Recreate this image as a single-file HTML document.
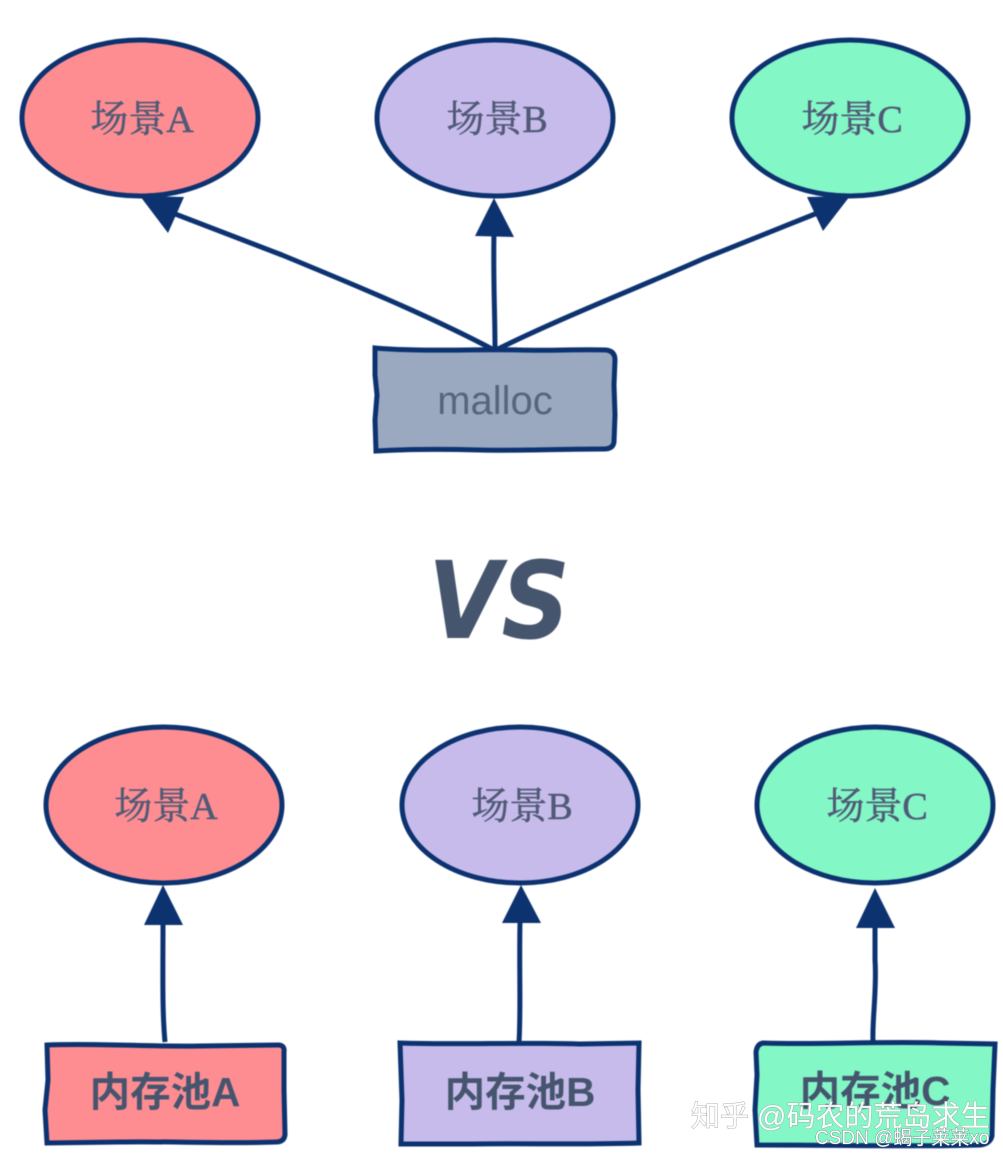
<!DOCTYPE html>
<html>
<head>
<meta charset="utf-8">
<style>
html,body{margin:0;padding:0;background:#fff;width:1003px;height:1156px;overflow:hidden}
svg{display:block}
.s{font-family:"Liberation Serif","Noto Serif CJK SC",serif;font-size:38px;fill:#505a76;stroke:#505a76;stroke-width:0.5;text-anchor:middle}
.b{font-family:"Liberation Sans","Noto Sans CJK SC",sans-serif;font-size:40.5px;font-weight:bold;fill:#46556e;text-anchor:middle}
.e{stroke:#0c3270;stroke-width:5}
.l{stroke:#0c3270;stroke-width:5;fill:none}
.a{fill:#0c3270;stroke:none}
</style>
</head>
<body>
<svg width="1003" height="1156" viewBox="0 0 1003 1156" xmlns="http://www.w3.org/2000/svg">
<g style="filter:blur(0.5px)">
<ellipse class="e" cx="140" cy="118" rx="118" ry="78" fill="#fe8d92"/>
<ellipse class="e" cx="495" cy="118" rx="118" ry="78" fill="#c7bbec"/>
<ellipse class="e" cx="850" cy="118" rx="118" ry="78" fill="#83f7c6"/>
<text class="s" x="142" y="132">场景A</text>
<text class="s" x="497" y="132">场景B</text>
<text class="s" x="852" y="132">场景C</text>

<path class="l" d="M494 350 C430 316 350 283 282 255 L170 212"/>
<path class="l" d="M495 350 C495 310 493 280 494 232"/>
<path class="l" d="M496 350 C560 318 640 287 705 258 L820 212"/>
<polygon class="a" points="140,196 184,197 168,233"/>
<polygon class="a" points="494,198 514,237 475,236"/>
<polygon class="a" points="850,196 807,197 823,231"/>

<path class="e" fill="#9aa9c0" d="M375 348 C420 352 470 349 520 350 C550 351 580 349 606 350 Q615 351 615 360 L614 385 L615 415 L614 442 Q613 449 604 449 C560 449 520 451 480 450 C440 449 410 449 376 451 L375 420 L377 395 L375 375 Z"/>
<text x="495" y="414" text-anchor="middle" font-family="'Liberation Sans',sans-serif" font-size="40" fill="#56657e">malloc</text>

<text transform="translate(499 638) scale(1 1.13)" text-anchor="middle" font-family="'DejaVu Sans','Liberation Sans',sans-serif" font-size="95" font-weight="bold" font-style="italic" fill="#46556e">VS</text>

<ellipse class="e" cx="164" cy="805" rx="118" ry="78" fill="#fe8d92"/>
<ellipse class="e" cx="520" cy="805" rx="118" ry="78" fill="#c7bbec"/>
<ellipse class="e" cx="875" cy="805" rx="118" ry="78" fill="#83f7c6"/>
<text class="s" x="166" y="819">场景A</text>
<text class="s" x="522" y="819">场景B</text>
<text class="s" x="877" y="819">场景C</text>

<path class="l" d="M165 1042 C162 1010 163 970 163 922"/>
<path class="l" d="M519 1042 C521 1010 519 970 520 922"/>
<path class="l" d="M873 1042 C872 1020 877 990 875 960 L875 925"/>
<polygon class="a" points="163,885 183,925 144,925"/>
<polygon class="a" points="521,885 541,923 502,923"/>
<polygon class="a" points="875,888 895,928 856,928"/>

<path class="e" fill="#fe8d92" d="M47 1045 C100 1043 150 1047 200 1046 L278 1045 Q285 1045 284 1052 L284 1090 L285 1135 Q284 1142 276 1142 C220 1144 170 1141 120 1142 L47 1143 L45 1110 L48 1080 Z"/>
<path class="e" fill="#c7bbec" d="M400 1043 C460 1045 520 1042 580 1044 L639 1043 L638 1090 L639 1143 C580 1145 520 1143 470 1144 L401 1144 L402 1100 Z"/>
<path class="e" fill="#83f7c6" d="M763 1043 C820 1045 880 1041 940 1043 L995 1044 L993 1090 L992 1136 Q990 1144 980 1145 C920 1147 850 1145 757 1145 L755 1110 L757 1075 L756 1052 Q757 1044 763 1043 Z"/>
<text class="b" x="165" y="1106">内存池A</text>
<text class="b" x="520" y="1106">内存池B</text>
<text class="b" x="875" y="1105">内存池C</text>
</g>
<text x="691" y="1126" font-family="'Liberation Sans','Noto Sans CJK SC',sans-serif" font-size="29" fill="#fff" stroke="#a8a8a8" stroke-width="1" paint-order="stroke" opacity="0.9">知乎 @码农的荒岛求生</text>
<text x="815" y="1144" font-family="'Liberation Sans','Noto Sans CJK SC',sans-serif" font-size="19" fill="#fff" stroke="#707a80" stroke-width="0.8" paint-order="stroke">CSDN @蝎子莱莱xo</text>
</svg>
</body>
</html>
